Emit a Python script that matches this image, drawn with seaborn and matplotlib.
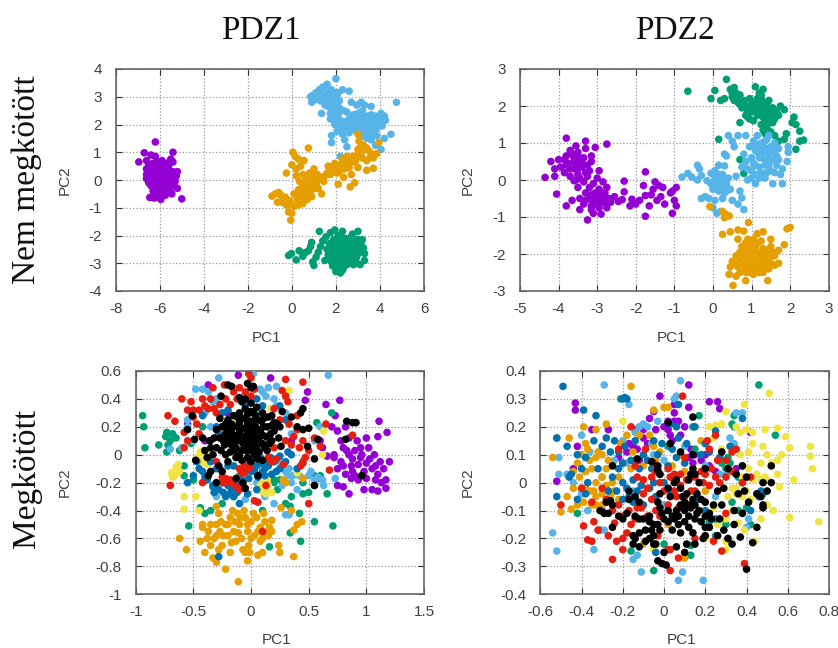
"""
PCA scatter plots for PDZ1 / PDZ2, free and bound
"""

import matplotlib
matplotlib.use("Agg")
import matplotlib.pyplot as plt
import pandas as pd
import seaborn as sns

colors = {
    "purple": "#9400D3", "green": "#009E73", "sky": "#56B4E9", "orange": "#E69F00",
    "yellow": "#F0E442", "blue": "#0072B2", "red": "#E51E10", "black": "#000000",
}

# PDZ1, free
pdz1_free_purple = [(-6.2,1.37),(-6.7,0.98),(-5.4,1.0),(-6.95,0.65),(-6.4,0.9),(-6.2,0.85),(-5.5,0.75),(-5.4,0.65),(-6.6,0.7),(-6.5,0.55),(-6.3,0.6),(-6.1,0.65),(-5.9,0.7),(-5.7,0.6),(-5.6,0.5),(-6.6,0.4),(-6.4,0.4),(-6.2,0.45),(-6.0,0.5),(-5.8,0.45),(-5.6,0.35),(-5.4,0.3),(-5.2,0.3),(-6.6,0.2),(-6.45,0.25),(-6.25,0.3),(-6.05,0.3),(-5.85,0.25),(-5.65,0.2),(-5.45,0.15),(-5.25,0.15),(-6.6,0.05),(-6.4,0.1),(-6.2,0.12),(-6.0,0.15),(-5.8,0.1),(-5.6,0.05),(-5.4,0.0),(-5.3,-0.05),(-6.5,-0.1),(-6.3,-0.05),(-6.1,-0.02),(-5.9,-0.05),(-5.7,-0.1),(-5.5,-0.12),(-6.4,-0.2),(-6.2,-0.15),(-6.0,-0.2),(-5.8,-0.25),(-5.6,-0.25),(-5.4,-0.2),(-6.1,-0.35),(-5.9,-0.4),(-5.7,-0.4),(-5.5,-0.45),(-5.2,-0.3),(-6.3,-0.4),(-6.45,-0.63),(-6.2,-0.55),(-6.05,-0.6),(-5.95,-0.7),(-5.75,-0.55),(-5.45,-0.5),(-5.0,-0.68),(-6.25,-0.65),(-6.15,0.2),(-5.95,0.38),(-5.75,0.32),(-6.35,0.18),(-6.5,0.32),(-5.5,0.25),(-5.3,0.08),(-6.15,-0.1),(-5.95,0.05),(-5.75,-0.02),(-5.55,-0.02),(-6.3,-0.28),(-5.85,-0.12),(-6.05,-0.28),(-5.65,-0.32)]
pdz1_free_green = [(-0.15,-2.72),(-0.02,-2.65),(0.2,-2.88),(0.33,-2.55),(0.5,-2.75),(0.6,-2.62),(0.75,-2.55),(0.85,-2.4),(0.9,-2.25),(0.95,-2.95),(1.0,-3.08),(1.1,-2.78),(1.2,-2.6),(1.25,-1.85),(1.3,-2.4),(1.4,-2.2),(1.5,-2.9),(1.55,-2.05),(1.6,-2.5),(1.65,-2.7),(1.7,-2.3),(1.75,-1.9),(1.8,-2.95),(1.85,-2.55),(1.9,-2.15),(1.95,-1.8),(2.0,-2.4),(2.0,-2.75),(2.0,-3.3),(2.05,-3.05),(2.1,-2.0),(2.15,-2.55),(2.2,-2.25),(2.2,-2.9),(2.2,-3.35),(2.3,-1.85),(2.3,-2.65),(2.35,-3.15),(2.4,-2.1),(2.45,-2.45),(2.5,-2.8),(2.5,-3.05),(2.55,-2.2),(2.65,-2.6),(2.7,-2.35),(2.7,-2.95),(2.75,-1.95),(2.8,-3.05),(2.85,-2.2),(2.9,-2.5),(2.95,-2.75),(3.0,-1.85),(3.05,-2.3),(3.1,-2.6),(3.1,-3.05),(3.2,-2.15),(3.25,-2.45),(3.3,-2.65),(3.3,-2.9),(1.95,-2.2),(2.1,-2.85),(2.25,-2.45),(2.4,-2.7),(2.6,-2.1),(1.85,-2.7),(2.35,-2.95),(1.7,-2.5),(1.8,-2.3),(1.9,-2.45),(1.75,-2.75),(1.95,-2.9),(2.1,-2.2),(2.1,-2.65),(2.25,-2.1),(2.3,-2.35),(2.35,-2.55),(2.25,-2.75),(2.4,-2.25),(2.5,-2.35),(2.55,-2.55),(2.6,-2.75),(2.55,-2.95),(2.65,-2.25),(2.75,-2.45),(2.8,-2.7),(2.9,-2.9),(2.85,-2.35),(3.0,-2.45),(3.0,-2.15),(3.15,-2.35),(2.15,-3.15),(2.3,-3.25),(1.85,-3.1),(2.45,-2.95)]
pdz1_free_sky = [(2.0,3.65),(1.6,3.45),(1.4,3.35),(1.25,3.25),(1.1,3.15),(0.95,3.05),(0.85,3.0),(0.9,2.8),(1.05,2.9),(1.2,3.0),(1.35,3.1),(1.5,3.2),(1.65,3.1),(1.8,3.25),(1.95,3.15),(2.1,3.15),(2.3,3.25),(2.6,3.2),(1.3,2.85),(1.5,2.95),(1.7,2.85),(1.85,2.95),(2.0,2.95),(2.15,2.85),(1.5,2.7),(1.65,2.65),(1.8,2.6),(1.95,2.7),(2.15,2.6),(1.35,2.4),(1.75,2.4),(1.9,2.45),(2.1,2.35),(2.35,2.5),(2.5,2.45),(2.7,2.8),(2.95,2.7),(3.15,2.8),(3.3,2.7),(3.6,2.65),(1.75,2.2),(2.0,2.2),(2.2,2.15),(2.4,2.1),(2.6,2.2),(2.8,2.35),(3.0,2.4),(3.2,2.5),(3.4,2.3),(3.6,2.35),(3.8,2.3),(4.05,2.4),(4.2,2.3),(1.95,2.0),(2.2,1.95),(2.45,1.9),(2.7,2.0),(2.9,2.1),(3.1,2.15),(3.3,2.05),(3.5,2.1),(3.7,2.1),(3.95,2.15),(4.25,2.15),(4.75,2.8),(2.05,1.75),(2.3,1.65),(2.6,1.7),(2.85,1.8),(3.05,1.9),(3.25,1.85),(3.45,1.8),(3.65,1.9),(3.85,1.85),(4.1,1.95),(1.8,1.6),(1.8,1.35),(2.4,1.45),(2.5,1.2),(3.1,1.55),(3.4,1.5),(3.6,1.45),(3.85,1.6),(4.2,1.5),(4.5,1.65),(4.05,1.1),(2.2,0.85),(3.8,1.25),(1.45,3.05),(1.6,2.95),(1.75,3.05),(1.9,3.05),(2.05,3.05),(1.4,2.95),(1.15,2.95),(1.55,2.8),(1.7,2.75),(1.85,2.8),(2.0,2.8),(1.95,2.55),(3.1,2.35),(3.3,2.25),(3.5,2.3),(3.7,2.3),(3.85,2.15),(4.0,2.25),(3.2,1.95),(3.4,1.95),(3.6,2.0),(3.8,2.0),(4.0,2.0),(2.9,1.9),(2.6,1.95),(3.1,1.7),(3.3,1.65),(3.55,1.65),(3.75,1.7),(2.3,1.85),(2.05,1.95),(2.8,2.2),(3.0,2.2)]
pdz1_free_orange = [(-0.9,-0.58),(-0.75,-0.5),(-0.6,-0.45),(-0.65,-0.8),(-0.5,-0.55),(-0.45,-0.8),(-0.3,-0.62),(-0.25,-0.9),(-0.15,-1.15),(-0.1,-0.75),(-0.05,-1.45),(0.0,-1.2),(0.0,0.55),(-0.25,0.25),(0.05,1.0),(0.15,0.85),(0.2,0.4),(0.2,0.15),(0.1,-0.5),(0.1,-0.95),(0.25,-0.7),(0.3,0.75),(0.35,-0.05),(0.4,0.5),(0.45,-0.3),(0.5,0.2),(0.5,-0.85),(0.55,0.7),(0.6,-0.55),(0.65,0.0),(0.7,-0.2),(0.7,-0.7),(0.75,1.15),(0.8,0.25),(0.85,-0.45),(0.9,-0.05),(0.95,-0.3),(1.0,0.4),(1.0,0.05),(1.1,-0.15),(1.15,0.2),(1.2,-0.3),(1.3,0.1),(1.35,-0.5),(1.45,-0.05),(1.6,0.25),(1.65,0.5),(1.8,0.35),(1.95,0.6),(2.05,0.25),(2.1,-0.15),(2.2,0.55),(2.3,0.75),(2.35,0.1),(2.5,0.85),(2.6,0.45),(2.65,-0.25),(2.7,0.2),(2.8,0.65),(2.85,-0.1),(2.95,0.9),(3.0,0.45),(3.0,1.65),(3.05,1.4),(3.1,1.15),(3.2,0.8),(3.3,1.1),(3.4,0.35),(3.4,0.7),(3.5,1.05),(3.6,0.95),(3.7,0.8),(3.7,0.42),(3.85,0.95),(3.95,1.35),(0.6,-0.25),(0.75,-0.4),(0.9,-0.6),(0.45,-0.55),(0.8,-0.1),(0.3,-0.35),(0.3,-0.9),(0.5,-0.1),(0.55,-0.4),(0.65,-0.55),(0.7,-0.05),(0.8,-0.25),(0.85,0.05),(0.95,-0.15),(1.05,-0.3),(1.05,0.2),(1.2,0.0),(0.4,-0.65),(0.2,-0.55),(0.0,-0.9),(1.5,0.15),(1.75,0.2),(2.0,0.45),(2.4,0.4),(2.55,0.65),(2.75,0.85),(2.9,0.7),(3.15,1.0),(3.25,1.25),(3.4,1.15),(3.55,0.8),(2.3,0.55),(2.15,0.3),(3.0,1.1)]

# PDZ2, free
pdz2_free_purple = [(-3.8,1.13),(-3.3,1.05),(-2.75,0.97),(-3.05,0.88),(-3.55,0.92),(-3.3,0.85),(-3.7,0.8),(-3.8,0.65),(-3.5,0.75),(-3.15,0.65),(-4.0,0.55),(-3.6,0.6),(-3.35,0.6),(-4.2,0.5),(-3.95,0.35),(-3.75,0.45),(-3.55,0.45),(-3.15,0.5),(-4.1,0.3),(-3.85,0.2),(-3.6,0.3),(-3.4,0.35),(-3.2,0.25),(-2.95,0.25),(-4.35,0.07),(-4.1,0.1),(-3.7,0.1),(-3.5,0.15),(-3.25,0.1),(-3.0,0.05),(-3.6,-0.02),(-3.35,-0.05),(-3.1,-0.1),(-2.85,-0.05),(-3.5,-0.2),(-3.2,-0.2),(-2.95,-0.25),(-2.75,-0.2),(-4.05,-0.38),(-3.3,-0.35),(-3.05,-0.35),(-2.8,-0.35),(-3.45,-0.5),(-3.2,-0.5),(-2.95,-0.45),(-2.7,-0.5),(-2.55,-0.45),(-3.65,-0.55),(-3.35,-0.65),(-3.1,-0.6),(-2.85,-0.6),(-2.65,-0.6),(-2.45,-0.58),(-3.8,-0.7),(-3.45,-0.8),(-3.15,-0.8),(-2.95,-0.75),(-2.75,-0.75),(-2.9,-0.92),(-3.25,-1.08),(-3.1,-0.9),(-2.3,-0.03),(-2.3,-0.32),(-2.35,-0.53),(-2.15,-0.7),(-2.1,-0.52),(-2.0,-0.65),(-1.9,-0.55),(-1.75,0.22),(-1.8,-0.15),(-1.75,-0.42),(-1.75,-0.98),(-1.6,-0.4),(-1.65,-0.7),(-1.55,-0.25),(-1.5,-0.05),(-1.45,-0.55),(-1.4,-0.15),(-1.35,-0.45),(-1.3,-0.2),(-1.25,-0.65),(-1.1,-0.35),(-1.05,-0.9),(-1.0,-0.55),(-0.95,-0.7),(-0.95,-0.2),(-1.05,-0.3),(-3.65,0.7),(-3.45,0.6),(-3.7,0.3),(-3.5,0.3),(-3.8,0.4),(-3.3,0.2),(-3.45,0.05),(-3.6,0.48),(-3.85,0.55),(-3.25,0.4),(-3.4,0.5),(-3.55,0.0),(-3.15,-0.4),(-3.0,-0.55),(-3.15,-0.7),(-3.0,-0.65),(-2.85,-0.5),(-3.3,-0.55),(-3.05,-0.5),(-2.9,-0.35),(-2.75,-0.62)]
pdz2_free_green = [(-0.65,2.4),(0.05,2.42),(-0.05,2.2),(0.35,2.72),(0.2,2.15),(0.3,2.2),(0.45,2.45),(0.5,2.25),(0.55,2.5),(0.6,2.35),(0.65,2.1),(0.7,2.3),(0.75,1.95),(0.8,2.15),(0.7,1.55),(0.85,1.75),(0.9,2.0),(0.95,2.2),(1.0,1.85),(1.05,2.1),(1.1,2.52),(1.15,1.75),(1.2,1.95),(1.2,2.35),(1.25,2.2),(1.3,2.45),(1.3,1.7),(1.35,2.0),(1.4,1.85),(1.45,1.6),(1.45,2.15),(1.5,1.75),(1.55,1.95),(1.6,1.65),(1.65,1.85),(1.7,1.75),(1.75,2.0),(1.85,1.9),(1.3,1.35),(1.35,1.25),(1.5,1.3),(1.6,1.2),(1.7,1.05),(1.85,1.1),(1.9,1.25),(2.05,1.55),(2.1,1.7),(2.15,1.5),(2.25,1.32),(2.25,1.05),(2.35,1.08),(2.15,0.83),(0.15,1.1),(0.7,0.55),(0.8,0.18),(0.95,1.65),(1.05,1.6),(0.9,1.85),(1.25,1.5),(0.5,2.35),(0.55,2.15),(0.6,2.2),(0.7,2.05),(0.8,2.0),(0.85,1.95),(0.95,1.9),(1.05,1.95),(1.1,1.85),(1.2,2.1),(1.25,1.85),(1.3,2.1),(1.35,1.8),(1.4,2.05),(1.45,1.75),(1.5,1.9),(1.55,1.75),(1.6,1.85),(1.35,1.6),(1.4,1.45),(1.55,1.55),(1.0,2.0),(1.15,2.2),(1.25,2.3),(0.9,1.7)]
pdz2_free_sky = [(-0.8,0.08),(-0.65,0.18),(-0.55,0.08),(-0.4,0.0),(-0.3,0.12),(-0.4,0.4),(-0.35,0.3),(-0.15,-0.02),(-0.05,0.18),(0.05,0.25),(0.05,0.0),(0.15,0.4),(0.15,-0.1),(0.25,0.15),(0.3,0.38),(0.35,-0.1),(0.4,0.05),(0.0,-0.25),(0.15,-0.3),(0.3,-0.35),(0.45,-0.25),(0.6,0.1),(0.7,-0.3),(-0.3,-0.5),(-0.2,-0.45),(-0.1,-0.5),(0.05,-0.55),(0.25,-0.5),(0.5,-0.55),(0.65,-0.65),(0.75,-0.48),(0.8,-0.8),(0.0,-0.75),(0.1,-0.9),(0.2,-0.85),(0.3,0.7),(0.35,0.65),(0.4,1.2),(0.5,1.05),(0.55,0.9),(0.65,1.2),(0.85,1.2),(0.8,0.7),(0.85,0.5),(0.75,0.35),(0.95,0.9),(1.0,0.6),(1.0,0.25),(1.0,0.05),(1.05,1.05),(1.1,0.8),(1.1,0.4),(1.1,-0.1),(1.15,1.2),(1.2,0.6),(1.25,0.2),(1.25,1.0),(1.3,0.75),(1.35,0.4),(1.35,0.05),(1.4,1.1),(1.45,0.6),(1.5,0.9),(1.5,0.25),(1.55,-0.1),(1.6,0.75),(1.6,1.0),(1.65,0.4),(1.7,0.55),(1.75,0.15),(1.8,-0.1),(1.8,0.3),(1.95,0.9),(1.95,0.75),(1.92,0.5),(1.7,0.85),(1.15,0.95),(0.9,0.0),(1.45,1.2),(0.05,0.1),(0.1,-0.15),(0.2,0.0),(0.25,-0.2),(0.15,0.15),(-0.05,-0.1),(0.3,0.0),(0.35,-0.3),(1.05,0.9),(1.15,0.75),(1.2,0.85),(1.3,0.9),(1.35,1.05),(1.4,0.85),(1.45,0.75),(1.55,0.8),(1.25,0.6),(1.35,0.55),(1.55,0.55),(1.1,0.15),(1.2,0.05),(1.4,0.2),(1.45,0.4),(1.6,0.2),(1.65,0.65),(1.05,0.45),(0.9,0.3),(1.2,0.35)]
pdz2_free_orange = [(-0.08,-0.72),(0.25,-0.85),(0.32,-0.92),(0.3,-1.02),(0.42,-0.97),(0.25,-1.47),(0.45,-1.4),(0.65,-1.35),(0.8,-1.38),(0.92,-1.15),(1.15,-1.45),(1.3,-1.4),(0.65,-1.6),(0.9,-1.6),(1.05,-1.6),(1.25,-1.65),(1.5,-1.6),(1.85,-1.75),(1.92,-1.32),(2.0,-1.28),(0.75,-1.8),(0.95,-1.8),(1.1,-1.8),(1.3,-1.85),(1.5,-1.8),(1.7,-1.9),(0.6,-2.05),(0.8,-2.0),(1.0,-2.0),(1.2,-2.05),(1.4,-2.0),(1.6,-2.05),(0.5,-2.2),(0.7,-2.2),(0.9,-2.2),(1.1,-2.2),(1.3,-2.2),(1.5,-2.25),(1.7,-2.25),(0.45,-2.35),(0.65,-2.35),(0.85,-2.35),(1.05,-2.4),(1.25,-2.4),(1.45,-2.4),(0.7,-2.5),(0.95,-2.5),(1.2,-2.5),(0.42,-2.55),(0.6,-2.6),(0.85,-2.72),(1.42,-2.72),(0.52,-2.85),(0.85,-1.7),(1.0,-1.7),(1.15,-1.7),(0.7,-1.95),(0.9,-1.9),(1.1,-1.92),(1.25,-1.95),(1.4,-1.9),(0.75,-2.1),(0.95,-2.1),(1.15,-2.12),(1.3,-2.1),(1.45,-2.12),(0.6,-2.28),(0.8,-2.28),(1.0,-2.3),(1.2,-2.3),(1.4,-2.3),(0.75,-2.42),(0.95,-2.42),(1.15,-2.42),(1.3,-2.5),(1.05,-2.55),(0.85,-2.5),(1.6,-2.3),(1.55,-1.95)]

# PDZ1, bound
pdz1_bound_purple = [(-0.11,0.57),(0.17,0.55),(-0.37,0.5),(0.49,0.45),(0.47,0.39),(0.77,0.39),(0.65,0.36),(0.73,0.28),(0.7,0.2),(0.75,0.17),(0.82,0.2),(0.62,0.05),(0.85,0.12),(0.92,0.1),(1.0,0.12),(1.1,0.13),(1.11,0.24),(1.18,0.16),(0.72,0.0),(0.8,0.05),(0.85,0.0),(0.95,0.05),(1.02,0.05),(1.07,0.0),(0.72,-0.02),(0.78,-0.05),(0.88,-0.03),(0.95,-0.02),(1.03,-0.03),(1.12,-0.05),(1.2,-0.05),(0.8,-0.08),(0.87,-0.08),(0.93,-0.07),(0.98,-0.12),(1.05,-0.1),(1.15,-0.1),(0.82,-0.14),(0.9,-0.15),(1.0,-0.17),(1.1,-0.14),(0.87,-0.17),(0.93,-0.18),(1.08,-0.18),(1.13,-0.2),(1.17,-0.18),(0.8,-0.23),(0.85,-0.28),(0.98,-0.25),(1.05,-0.25),(1.1,-0.26),(1.17,-0.24),(0.75,-0.22),(-0.55,0.22),(-0.4,0.1),(-0.2,0.3),(0.35,0.1),(0.6,0.1),(0.83,0.03),(0.9,0.03),(0.78,0.1),(0.88,-0.12),(0.96,0.0),(1.0,-0.06),(0.66,-0.01),(0.75,-0.1),(1.08,-0.08)]
pdz1_bound_green = [(-0.94,0.28),(-0.93,0.2),(-0.92,0.05),(-0.8,0.07),(-0.73,0.16),(-0.74,0.13),(-0.72,0.07),(-0.73,0.02),(-0.65,0.12),(-0.62,0.03),(-0.58,-0.08),(-0.54,-0.51),(-0.44,-0.38),(-0.5,-0.18),(-0.33,-0.23),(-0.25,-0.35),(-0.1,-0.15),(0.1,-0.4),(0.2,-0.2),(0.25,-0.18),(0.3,-0.35),(0.35,-0.3),(0.45,-0.2),(0.45,-0.28),(0.5,-0.27),(0.55,-0.22),(0.55,-0.48),(0.71,-0.51),(0.43,-0.62),(0.34,-0.56),(0.66,-0.28),(0.16,-0.66),(0.7,0.3),(0.57,0.23),(0.45,-0.05),(0.55,-0.15),(0.6,-0.15),(-0.58,-0.15),(-0.42,0.2),(-0.7,0.1),(-0.68,0.15),(-0.52,0.08),(0.2,-0.18),(0.23,-0.25),(0.34,-0.37),(0.42,-0.42),(0.58,-0.17),(-0.4,-0.42),(-0.35,-0.4)]
pdz1_bound_sky = [(0.67,0.57),(0.02,0.58),(-0.28,0.55),(-0.48,0.47),(-0.37,0.45),(-0.15,0.48),(0.08,0.47),(0.15,0.48),(0.22,0.49),(0.2,0.4),(0.22,0.35),(-0.3,0.4),(-0.4,0.3),(-0.55,0.25),(0.3,0.3),(0.35,0.15),(0.6,0.2),(0.55,0.1),(-0.6,0.05),(-0.7,0.04),(-0.5,0.1),(0.25,-0.05),(0.3,-0.12),(0.32,-0.15),(0.5,-0.15),(0.55,-0.18),(0.58,-0.16),(0.62,-0.18),(0.63,-0.22),(0.73,-0.17),(0.35,-0.2),(0.4,-0.25),(0.33,-0.43),(0.3,-0.43),(0.2,-0.35),(-0.3,-0.3),(-0.4,-0.05),(-0.1,0.25),(0.05,0.3),(-0.2,0.2),(0.1,0.45),(0.13,0.42),(-0.42,0.47),(-0.33,0.38),(0.33,-0.1),(0.36,-0.15),(0.42,-0.15),(0.52,-0.12),(0.05,-0.2),(-0.05,-0.32),(-0.55,0.2),(-0.35,0.2),(0.27,-0.22),(0.12,-0.3),(-0.15,-0.3)]
pdz1_bound_orange = [(-0.62,-0.6),(-0.56,-0.68),(-0.44,-0.62),(-0.42,-0.52),(-0.42,-0.5),(-0.37,-0.55),(-0.4,-0.7),(-0.35,-0.65),(-0.33,-0.74),(-0.3,-0.77),(-0.32,-0.6),(-0.3,-0.5),(-0.27,-0.55),(-0.28,-0.42),(-0.25,-0.65),(-0.22,-0.82),(-0.22,-0.5),(-0.2,-0.58),(-0.18,-0.45),(-0.18,-0.7),(-0.15,-0.55),(-0.13,-0.62),(-0.12,-0.42),(-0.11,-0.91),(-0.1,-0.5),(-0.08,-0.6),(-0.07,-0.68),(-0.05,-0.45),(-0.05,-0.7),(-0.03,-0.55),(-0.02,-0.65),(-0.03,-0.76),(0.0,-0.48),(0.03,-0.58),(0.05,-0.45),(0.06,-0.72),(0.08,-0.52),(0.1,-0.6),(0.1,-0.7),(0.12,-0.48),(0.13,-0.56),(0.16,-0.52),(0.18,-0.47),(0.24,-0.65),(0.25,-0.7),(0.37,-0.73),(0.37,-0.54),(0.4,-0.5),(0.44,-0.48),(0.26,-0.38),(0.35,-0.4),(-0.3,-0.37),(0.28,-0.18),(0.45,-0.17),(0.3,-0.2),(-0.35,-0.5),(-0.3,-0.58),(-0.26,-0.48),(-0.24,-0.58),(-0.2,-0.5),(-0.17,-0.63),(-0.14,-0.48),(-0.11,-0.56),(-0.09,-0.45),(-0.03,-0.5),(0.0,-0.6),(0.02,-0.42),(0.06,-0.55),(0.08,-0.62),(0.11,-0.42),(0.15,-0.58),(0.18,-0.55),(-0.38,-0.6),(-0.28,-0.68),(-0.06,-0.4),(-0.01,-0.7),(-0.16,-0.4)]
pdz1_bound_yellow = [(-0.69,-0.13),(-0.68,-0.16),(-0.65,-0.09),(-0.66,-0.15),(-0.62,-0.12),(-0.63,-0.07),(-0.58,-0.3),(-0.58,-0.39),(-0.48,-0.3),(-0.45,-0.4),(-0.47,-0.02),(-0.44,0.02),(-0.42,-0.05),(-0.4,0.0),(-0.38,-0.07),(-0.37,0.03),(0.08,-0.22),(0.11,-0.2),(0.12,-0.25),(0.13,-0.28),(0.15,-0.22),(0.18,-0.27),(0.62,0.0),(0.63,0.17),(0.33,0.46),(-0.15,0.22),(0.17,0.33),(0.4,-0.13),(-0.45,-0.04),(-0.41,0.03),(0.09,-0.26),(0.14,-0.18)]
pdz1_bound_blue = [(-0.25,-0.2),(-0.22,-0.3),(-0.2,-0.22),(-0.17,-0.25),(-0.15,-0.3),(-0.13,-0.2),(-0.1,-0.22),(-0.05,-0.12),(-0.02,-0.05),(0.0,-0.12),(0.02,-0.03),(0.05,-0.08),(0.08,-0.02),(0.12,-0.1),(0.15,-0.08),(0.18,-0.14),(0.2,-0.05),(0.25,-0.1),(-0.32,-0.27),(-0.38,-0.18),(-0.42,-0.12),(-0.45,-0.1),(-0.55,-0.2),(-0.5,-0.15),(-0.42,0.28),(-0.35,0.1),(-0.28,0.15),(-0.2,0.32),(0.1,0.35),(0.2,0.2),(0.35,0.0),(0.4,-0.1),(-0.28,-0.73),(-0.1,-0.35),(-0.03,-0.28),(0.05,-0.25),(0.12,-0.15),(-0.12,0.12),(-0.04,0.05),(0.15,0.12),(-0.33,-0.22),(-0.28,-0.25),(-0.24,-0.27),(-0.18,-0.28),(-0.12,-0.27),(-0.08,-0.18),(-0.06,-0.24),(-0.02,-0.17),(0.03,-0.12),(0.06,-0.16),(0.09,-0.06),(0.1,-0.12),(0.14,-0.04),(0.17,-0.02),(0.22,-0.12),(-0.2,-0.08),(-0.3,-0.1),(-0.35,-0.05),(-0.4,-0.16),(-0.47,-0.05),(-0.27,-0.1),(-0.15,-0.08),(-0.25,0.3),(-0.3,0.2),(-0.05,0.36),(0.25,0.35),(0.3,0.25),(0.05,0.4),(0.32,0.02),(0.25,-0.01),(0.3,-0.05)]
pdz1_bound_red = [(-0.6,0.4),(-0.72,0.28),(-0.66,0.24),(-0.7,-0.22),(-0.58,0.05),(-0.52,0.38),(-0.5,0.32),(-0.47,0.22),(-0.42,0.4),(-0.4,0.35),(-0.37,0.33),(-0.33,0.48),(-0.3,0.3),(-0.25,0.2),(-0.23,0.5),(-0.18,0.36),(-0.12,0.4),(-0.1,0.48),(-0.02,0.58),(0.0,0.55),(0.03,0.47),(0.3,0.54),(0.45,0.52),(0.27,0.46),(0.3,0.42),(0.32,0.38),(0.4,0.28),(0.33,0.22),(0.37,0.13),(0.42,0.05),(0.45,0.1),(0.5,0.03),(0.6,0.06),(0.65,0.22),(0.55,0.12),(0.47,-0.02),(0.45,-0.06),(0.43,-0.08),(0.28,-0.07),(0.13,-0.22),(-0.1,-0.1),(-0.07,-0.09),(-0.03,-0.1),(-0.08,-0.13),(-0.25,-0.16),(-0.22,-0.17),(-0.18,-0.18),(-0.1,-0.25),(0.03,-0.33),(0.06,-0.34),(-0.3,-0.05),(-0.42,-0.2),(0.5,-0.35),(0.1,-0.55),(0.68,-0.11),(0.88,0.14),(0.2,0.05),(0.15,-0.02),(-0.55,0.32),(-0.5,0.27),(-0.45,0.32),(-0.35,0.4),(-0.32,0.33),(-0.27,0.36),(-0.22,0.4),(-0.15,0.45),(-0.05,0.45),(0.0,0.42),(0.2,0.33),(0.25,0.25),(0.35,0.07),(0.4,0.18),(0.3,0.1),(-0.55,0.1),(-0.45,0.15),(-0.58,0.16),(-0.05,-0.08),(-0.06,-0.13),(-0.01,-0.09),(-0.24,-0.2),(-0.2,-0.2),(-0.14,-0.22),(0.22,-0.03),(0.18,-0.05)]
pdz1_bound_black = [(-0.2,0.5),(-0.17,0.49),(-0.03,0.51),(0.0,0.48),(0.02,0.49),(-0.1,0.41),(-0.08,0.38),(-0.05,0.4),(-0.26,0.42),(-0.51,0.28),(-0.55,0.18),(0.18,0.28),(0.27,0.31),(0.35,0.27),(0.45,0.33),(0.43,0.3),(0.4,0.2),(0.5,0.19),(0.45,0.18),(0.58,0.11),(0.49,0.06),(0.55,-0.03),(0.55,-0.22),(0.83,0.24),(0.88,0.23),(0.91,0.23),(0.82,0.11),(0.96,-0.15),(-0.49,0.11),(-0.42,0.12),(-0.48,-0.04),(-0.38,-0.02),(-0.33,0.0),(-0.36,0.1),(-0.3,0.05),(-0.28,-0.08),(-0.26,0.03),(-0.35,-0.12),(-0.37,-0.15),(-0.3,-0.2),(-0.25,-0.12),(-0.2,-0.05),(-0.18,0.02),(-0.13,-0.17),(-0.07,-0.2),(-0.05,-0.24),(0.0,-0.05),(0.06,-0.15),(0.07,0.02),(-0.27,0.12),(-0.25,0.2),(-0.23,0.07),(-0.2,0.12),(-0.2,0.18),(-0.2,0.25),(-0.17,0.07),(-0.15,0.13),(-0.15,0.2),(-0.15,0.28),(-0.13,0.05),(-0.12,0.1),(-0.1,0.16),(-0.1,0.23),(-0.1,0.3),(-0.08,0.03),(-0.07,0.08),(-0.06,0.13),(-0.05,0.19),(-0.05,0.26),(-0.05,0.33),(-0.02,0.06),(-0.02,0.12),(-0.01,0.18),(0.0,0.24),(0.0,0.31),(0.0,0.37),(0.03,0.08),(0.03,0.14),(0.04,0.2),(0.04,0.28),(0.05,0.34),(0.07,0.1),(0.08,0.17),(0.09,0.24),(0.1,0.3),(0.12,0.05),(0.13,0.13),(0.14,0.2),(0.15,0.27),(0.18,0.1),(0.2,0.17),(0.23,0.22),(0.24,0.12),(0.26,0.06),(-0.03,-0.02),(0.1,-0.04),(0.03,0.0),(-0.24,0.1),(-0.22,0.15),(-0.22,0.22),(-0.18,0.1),(-0.17,0.16),(-0.17,0.22),(-0.12,0.14),(-0.12,0.2),(-0.12,0.27),(-0.08,0.12),(-0.08,0.19),(-0.08,0.26),(-0.03,0.1),(-0.03,0.16),(-0.03,0.22),(-0.03,0.29),(0.01,0.1),(0.01,0.16),(0.02,0.22),(0.02,0.3),(0.05,0.05),(0.05,0.12),(0.06,0.18),(0.06,0.25),(0.1,0.08),(0.1,0.14),(0.11,0.2),(0.11,0.26),(0.16,0.08),(0.17,0.15),(0.18,0.21),(-0.13,-0.02),(-0.08,-0.04),(-0.15,0.03),(-0.1,0.0),(-0.04,0.03),(0.0,0.03),(0.06,-0.03),(-0.22,0.0),(-0.35,0.05),(-0.4,0.03),(-0.32,0.12),(-0.3,0.18),(-0.27,0.26),(0.2,0.23),(0.25,0.2),(0.14,0.03)]

# PDZ2, bound
pdz2_bound_purple = [(0.12,0.35),(-0.02,0.31),(-0.43,0.285),(-0.43,0.26),(0.05,0.28),(0.22,0.29),(0.26,0.29),(0.27,0.265),(-0.05,0.255),(0.05,0.25),(0.05,0.22),(0.1,0.2),(0.02,0.22),(0.02,0.19),(0.03,0.17),(0.08,0.17),(-0.14,0.19),(-0.1,0.16),(-0.17,0.14),(-0.13,0.12),(-0.27,0.19),(-0.35,0.19),(-0.42,0.13),(-0.22,0.09),(0.15,0.1),(0.12,0.09),(0.14,0.07),(0.22,0.06),(0.25,0.04),(-0.44,0.05),(-0.52,0.005),(0.35,0.05),(0.42,0.18),(-0.3,-0.1),(0.12,0.27),(-0.07,0.23),(-0.12,0.08),(0.0,0.2),(0.04,0.15),(0.07,0.22),(-0.1,0.19),(-0.15,0.13),(-0.18,0.11),(0.13,0.12),(0.18,0.08),(0.2,0.1),(-0.08,0.14),(-0.04,0.19)]
pdz2_bound_green = [(0.46,0.35),(0.34,0.24),(0.17,0.24),(0.33,0.21),(0.34,0.2),(0.54,0.17),(0.28,0.07),(0.31,0.09),(0.32,0.07),(0.38,0.06),(0.38,0.0),(0.48,-0.04),(-0.42,-0.11),(-0.31,-0.17),(-0.16,-0.245),(-0.05,-0.315),(0.0,-0.22),(0.13,-0.225),(0.13,-0.26),(0.25,-0.19),(0.3,-0.15),(0.42,-0.15),(0.33,-0.07),(0.02,0.13),(-0.21,0.3),(0.15,0.12),(0.3,0.05),(0.36,0.02),(0.4,-0.09),(0.36,-0.1),(0.22,-0.14),(0.14,0.2)]
pdz2_bound_sky = [(-0.29,0.35),(0.08,0.365),(0.06,0.31),(0.05,0.3),(-0.17,0.28),(-0.1,0.21),(-0.12,0.2),(0.35,0.25),(0.38,0.25),(0.32,0.16),(0.34,0.14),(-0.51,0.09),(-0.51,0.03),(-0.47,0.03),(-0.44,0.0),(-0.4,-0.04),(-0.54,-0.18),(-0.52,-0.245),(-0.34,-0.24),(-0.29,-0.17),(-0.15,-0.275),(-0.13,-0.26),(-0.11,-0.32),(0.09,-0.32),(0.07,-0.35),(0.19,-0.35),(0.4,-0.16),(0.41,-0.13),(0.3,0.03),(-0.2,0.15),(-0.06,0.14),(0.2,0.06),(-0.36,0.11),(-0.4,0.17),(-0.3,0.02),(-0.37,-0.1),(-0.08,0.2),(-0.14,0.18),(-0.03,0.22),(-0.05,0.1),(0.0,0.08),(-0.24,0.08),(-0.18,0.07),(0.1,0.13),(0.27,0.03),(0.25,-0.05),(-0.15,-0.03),(0.0,-0.08)]
pdz2_bound_orange = [(-0.16,0.345),(-0.54,0.09),(-0.52,0.16),(-0.46,0.16),(-0.05,0.26),(0.0,0.27),(0.02,0.27),(-0.28,0.21),(-0.39,0.2),(-0.38,0.14),(-0.33,0.19),(-0.32,0.11),(-0.42,0.07),(-0.33,0.09),(-0.3,0.1),(-0.27,0.08),(-0.25,0.06),(-0.22,0.02),(-0.44,0.04),(-0.41,0.02),(-0.38,0.04),(-0.35,0.05),(-0.33,0.0),(-0.3,0.02),(-0.28,-0.01),(-0.25,0.0),(-0.38,-0.02),(-0.36,-0.03),(-0.34,-0.03),(-0.33,-0.05),(-0.3,-0.04),(-0.26,-0.05),(-0.24,-0.03),(-0.47,-0.05),(-0.42,-0.08),(-0.39,-0.07),(-0.35,-0.08),(-0.33,-0.08),(-0.5,-0.105),(-0.45,-0.095),(-0.05,0.13),(-0.18,0.17),(-0.21,0.14),(-0.1,0.06),(0.08,0.1),(0.2,-0.03),(-0.1,-0.22),(0.1,-0.27),(0.02,-0.15),(0.18,0.15),(-0.04,0.08),(-0.36,0.08),(-0.28,0.05),(-0.2,0.07),(-0.15,0.11),(-0.12,0.17),(-0.07,0.17),(-0.02,0.11),(0.04,0.06),(0.1,0.04),(-0.16,0.05),(-0.4,0.1),(-0.44,-0.02),(-0.22,-0.06),(-0.3,-0.08),(-0.37,0.12)]
pdz2_bound_yellow = [(0.51,0.32),(0.39,0.28),(0.3,0.255),(0.22,0.2),(0.25,0.205),(0.28,0.21),(0.35,0.2),(0.37,0.18),(0.4,0.19),(0.43,0.18),(0.49,0.19),(0.55,0.195),(0.59,0.165),(0.43,0.14),(0.41,0.11),(0.48,0.13),(0.5,0.1),(0.61,0.125),(0.71,0.13),(0.71,0.095),(0.72,0.05),(0.57,0.1),(0.55,0.08),(0.47,0.07),(0.52,0.07),(0.63,0.01),(0.55,0.03),(0.43,0.01),(0.47,0.01),(0.49,0.02),(0.5,0.01),(0.38,0.02),(0.56,-0.015),(0.33,-0.02),(0.35,-0.04),(0.38,-0.05),(0.4,-0.03),(0.31,-0.05),(0.5,-0.08),(0.53,-0.1),(0.61,-0.125),(0.75,-0.14),(0.47,-0.13),(0.36,-0.145),(0.39,-0.17),(0.44,-0.21),(0.3,-0.21),(0.3,-0.24),(-0.2,0.22),(0.14,0.05),(0.26,-0.15),(0.2,-0.2),(0.24,0.16),(-0.05,-0.24),(0.41,0.05),(0.45,0.03),(0.35,-0.02),(0.33,-0.1),(0.42,-0.06),(0.28,0.12),(0.37,0.1),(0.3,-0.13),(0.24,-0.09)]
pdz2_bound_blue = [(-0.49,0.345),(-0.39,0.26),(-0.33,0.24),(-0.2,0.3),(-0.18,0.3),(-0.19,0.305),(0.07,0.28),(0.32,0.13),(0.38,0.23),(0.25,0.185),(-0.52,0.16),(-0.47,0.13),(-0.42,0.1),(-0.38,0.09),(-0.45,0.03),(-0.46,0.02),(-0.52,-0.05),(-0.42,-0.06),(-0.38,-0.04),(-0.28,0.16),(-0.24,0.15),(-0.22,0.11),(-0.14,0.15),(-0.05,0.15),(0.03,0.21),(0.06,0.2),(0.15,0.2),(-0.25,0.02),(-0.22,0.05),(-0.2,0.0),(-0.18,-0.02),(-0.17,-0.05),(-0.15,-0.07),(-0.13,-0.03),(-0.2,0.07),(-0.12,0.05),(-0.08,0.08),(-0.03,0.1),(-0.02,0.03),(0.02,0.06),(-0.1,-0.08),(-0.07,-0.02),(-0.05,0.0),(0.0,0.0),(0.1,0.07),(0.18,0.1),(0.22,0.11),(-0.04,-0.25),(0.42,-0.1),(0.46,-0.05),(0.47,-0.03),(0.2,-0.1),(0.25,-0.13),(0.16,-0.06),(-0.34,0.15),(-0.3,0.13),(-0.26,0.11),(-0.19,0.13),(-0.16,0.08),(-0.1,0.1),(-0.06,0.05),(-0.01,0.14),(0.04,0.12),(0.07,0.16),(0.11,0.14),(0.2,0.14),(-0.23,-0.03),(-0.2,-0.06),(-0.15,0.01),(-0.11,-0.01),(-0.04,-0.05),(0.03,-0.03),(-0.27,-0.03),(-0.32,0.05),(-0.4,0.05),(-0.37,0.0),(0.06,0.09),(0.27,0.09)]
pdz2_bound_red = [(0.09,0.31),(-0.16,0.2),(0.25,0.17),(0.21,0.15),(0.22,0.12),(0.33,0.11),(0.3,0.08),(-0.09,0.12),(-0.05,0.07),(0.02,0.05),(0.08,0.03),(-0.13,0.02),(-0.1,0.01),(-0.08,-0.02),(-0.06,0.02),(0.15,0.02),(0.18,0.04),(0.2,0.03),(0.22,-0.01),(0.25,0.02),(0.27,0.0),(-0.4,-0.02),(-0.35,-0.07),(-0.5,-0.08),(-0.39,-0.155),(-0.34,-0.14),(-0.32,-0.17),(-0.37,-0.205),(-0.35,-0.21),(-0.27,-0.19),(-0.24,-0.145),(-0.23,-0.21),(-0.2,-0.2),(-0.25,-0.275),(-0.2,-0.24),(-0.18,-0.18),(-0.17,-0.1),(-0.14,-0.13),(-0.11,-0.09),(-0.08,-0.12),(-0.02,-0.12),(0.02,-0.08),(0.05,-0.03),(0.06,-0.05),(0.07,-0.09),(0.1,-0.05),(0.13,-0.03),(0.02,-0.24),(0.03,-0.24),(0.07,-0.27),(0.03,-0.315),(-0.03,-0.19),(0.15,-0.2),(0.24,-0.21),(0.28,-0.245),(0.3,-0.11),(0.39,-0.29),(0.38,0.0),(0.42,0.02),(0.35,0.12),(-0.22,0.12),(-0.3,-0.02),(-0.28,-0.06),(-0.25,-0.1),(-0.22,-0.08),(-0.2,-0.12),(-0.16,-0.15),(-0.13,-0.09),(-0.1,-0.04),(-0.06,-0.06),(-0.04,-0.1),(0.0,-0.03),(0.03,0.02),(0.08,-0.01),(0.11,0.01),(0.15,-0.03),(0.19,0.0),(0.23,0.05),(0.26,0.08),(0.1,0.09),(-0.02,0.0),(-0.14,0.06),(-0.04,0.04),(0.3,0.02),(0.33,0.04),(0.05,0.03)]
pdz2_bound_black = [(0.14,0.235),(0.02,0.215),(0.03,0.14),(0.08,0.11),(0.14,0.1),(-0.13,0.085),(-0.06,0.075),(-0.03,0.06),(-0.03,0.045),(-0.02,0.03),(-0.25,0.06),(0.14,0.05),(0.13,0.03),(0.12,0.01),(0.17,0.0),(0.06,0.01),(0.08,-0.02),(0.2,0.05),(0.28,0.11),(0.29,-0.02),(0.31,0.05),(0.35,0.03),(0.38,0.06),(0.4,0.02),(0.48,0.0),(0.52,0.0),(0.52,0.06),(0.36,-0.04),(0.45,-0.04),(0.47,-0.05),(0.5,-0.03),(0.48,-0.08),(0.48,-0.09),(0.26,-0.03),(-0.26,-0.065),(-0.28,-0.07),(-0.25,-0.08),(-0.31,-0.1),(-0.29,-0.11),(-0.27,-0.11),(-0.25,-0.16),(-0.18,-0.11),(-0.17,-0.06),(-0.14,-0.05),(-0.12,-0.07),(-0.14,-0.12),(-0.12,-0.13),(-0.15,-0.19),(-0.14,-0.2),(-0.15,-0.22),(-0.12,-0.23),(-0.09,-0.17),(-0.07,-0.12),(-0.07,-0.14),(-0.06,-0.17),(-0.05,-0.15),(-0.05,-0.19),(-0.04,-0.22),(-0.05,-0.22),(-0.03,-0.15),(-0.02,-0.17),(-0.02,-0.04),(-0.03,-0.07),(-0.02,-0.09),(-0.01,-0.11),(0.0,-0.13),(0.02,-0.1),(0.03,-0.05),(0.04,-0.12),(0.05,-0.13),(0.06,-0.1),(0.07,-0.12),(0.08,-0.08),(0.09,-0.09),(0.1,-0.07),(0.1,-0.1),(0.11,-0.04),(0.12,-0.12),(0.13,-0.09),(0.14,-0.06),(0.15,-0.08),(0.16,-0.04),(0.17,-0.1),(0.18,-0.14),(0.2,-0.07),(0.2,-0.16),(0.22,-0.11),(0.2,-0.19),(0.19,-0.2),(0.06,-0.23),(-0.03,-0.28),(-0.01,-0.29),(0.01,-0.295),(0.0,-0.25),(0.08,-0.18),(0.1,-0.25),(0.22,-0.16),(0.26,-0.19),(0.29,-0.17),(0.31,-0.2),(0.33,-0.22),(0.37,-0.195),(0.43,-0.215),(0.45,-0.16),(0.39,-0.03),(0.41,-0.07),(0.38,-0.11),(0.34,-0.1),(0.4,-0.31),(0.11,-0.22),(0.15,-0.22),(0.02,-0.14),(0.04,-0.17),(0.07,-0.15),(0.1,-0.14),(0.12,-0.16),(0.15,-0.13),(0.14,-0.18),(0.09,-0.05),(0.12,-0.08),(0.18,-0.06),(0.16,-0.11),(0.2,-0.12),(0.24,-0.08),(0.23,-0.13),(0.28,-0.08),(-0.1,-0.13),(-0.09,-0.21),(-0.07,-0.2),(-0.12,-0.18),(-0.2,-0.13),(-0.22,-0.12),(-0.17,-0.03),(0.02,-0.02),(0.05,0.0),(0.15,0.03),(0.34,-0.15),(0.27,-0.13)]

tick_x = [[-8, -6, -4, -2, 0, 2, 4, 6], [-5, -4, -3, -2, -1, 0, 1, 2, 3],
          [-1, -0.5, 0, 0.5, 1, 1.5], [-0.6, -0.4, -0.2, 0, 0.2, 0.4, 0.6, 0.8]]
tick_y = [[-4, -3, -2, -1, 0, 1, 2, 3, 4], [-3, -2, -1, 0, 1, 2, 3],
          [-1, -0.8, -0.6, -0.4, -0.2, 0, 0.2, 0.4, 0.6], [-0.4, -0.3, -0.2, -0.1, 0, 0.1, 0.2, 0.3, 0.4]]

panels = [
    {"purple": pdz1_free_purple, "green": pdz1_free_green, "sky": pdz1_free_sky, "orange": pdz1_free_orange},
    {"purple": pdz2_free_purple, "green": pdz2_free_green, "sky": pdz2_free_sky, "orange": pdz2_free_orange},
    {"purple": pdz1_bound_purple, "green": pdz1_bound_green, "sky": pdz1_bound_sky, "orange": pdz1_bound_orange,
     "yellow": pdz1_bound_yellow, "blue": pdz1_bound_blue, "red": pdz1_bound_red, "black": pdz1_bound_black},
    {"purple": pdz2_bound_purple, "green": pdz2_bound_green, "sky": pdz2_bound_sky, "orange": pdz2_bound_orange,
     "yellow": pdz2_bound_yellow, "blue": pdz2_bound_blue, "red": pdz2_bound_red, "black": pdz2_bound_black},
]

W, H = 838, 648
# axes boxes in pixels: left, right, top, bottom
boxes = [(115.7, 424, 69, 291), (520, 828.7, 69, 291), (135.7, 424, 371, 594.3), (540.3, 829, 371, 594.3)]
ylabel_px = [65, 468, 65, 468]
xlabel_px = [337.5, 337.5, 640.5, 640.5]

sns.set_theme(style="white")
plt.rcParams["font.family"] = ["Liberation Sans", "DejaVu Sans"]

fig = plt.figure(figsize=(W / 100, H / 100), dpi=100)

for i, series in enumerate(panels):
    l, r, t, b = boxes[i]
    ax = fig.add_axes([l / W, 1 - b / H, (r - l) / W, (b - t) / H])

    frames = [pd.DataFrame(pts, columns=["x", "y"]).assign(s=name) for name, pts in series.items()]
    df = pd.concat(frames, ignore_index=True)
    sns.scatterplot(data=df, x="x", y="y", hue="s", palette=colors, s=30, linewidth=0,
                    legend=False, ax=ax, zorder=3)

    ax.set_xlim(tick_x[i][0], tick_x[i][-1])
    ax.set_ylim(tick_y[i][0], tick_y[i][-1])
    ax.set_xticks(tick_x[i])
    ax.set_yticks(tick_y[i])
    ax.set_xticklabels([f"{v:g}" for v in tick_x[i]])
    ax.set_yticklabels([f"{v:g}" for v in tick_y[i]])
    ax.grid(True, linestyle=":", color="#999999", linewidth=0.9)
    ax.set_axisbelow(True)
    ax.tick_params(direction="in", top=True, right=True, bottom=True, left=True, length=4, width=0.8,
                   color="#333333", labelsize=11, labelcolor="#404040")
    ax.tick_params(axis="x", pad=8)
    ax.tick_params(axis="y", pad=10)
    for sp in ax.spines.values():
        sp.set_color("#666666")
        sp.set_linewidth(1.2)
    ax.set_xlabel("PC1", fontsize=11, color="#404040", va="center")
    ax.set_ylabel("PC2", fontsize=11, color="#404040", va="center")
    ax.xaxis.set_label_coords(0.49, -(xlabel_px[i] - b) / (b - t))
    ax.yaxis.set_label_coords((ylabel_px[i] - l) / (r - l), 0.5)

serif = ["Liberation Serif", "DejaVu Serif"]
fig.text(261 / W, 1 - 31 / H, "PDZ1", family=serif, fontsize=24, ha="center", va="center", color="#111111")
fig.text(675 / W, 1 - 31 / H, "PDZ2", family=serif, fontsize=24, ha="center", va="center", color="#111111")
fig.text(27 / W, 1 - 180 / H, "Nem megkötött", family=serif, fontsize=24, rotation=90, ha="center", va="center", color="#111111")
fig.text(27 / W, 1 - 478 / H, "Megkötött", family=serif, fontsize=24, rotation=90, ha="center", va="center", color="#111111")

fig.savefig("out.png", dpi=100)
